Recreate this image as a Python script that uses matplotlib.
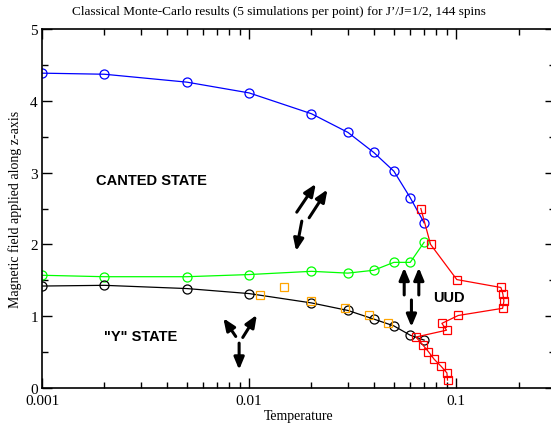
import matplotlib
matplotlib.use('Agg')
import matplotlib.pyplot as plt
from matplotlib.ticker import FixedLocator, FixedFormatter, LogLocator, NullFormatter, MultipleLocator

# canted / upper branch (blue circles)
T_blue = [0.001, 0.002, 0.005, 0.01, 0.02, 0.03, 0.04, 0.05, 0.06, 0.07]
H_blue = [4.385, 4.37, 4.26, 4.11, 3.82, 3.56, 3.28, 3.02, 2.65, 2.30]

# green circles
T_green = [0.001, 0.002, 0.005, 0.01, 0.02, 0.03, 0.04, 0.05, 0.06, 0.07]
H_green = [1.57, 1.55, 1.55, 1.58, 1.625, 1.60, 1.64, 1.75, 1.75, 2.03]

# black circles
T_black = [0.001, 0.002, 0.005, 0.01, 0.02, 0.03, 0.04, 0.05, 0.06, 0.07]
H_black = [1.42, 1.43, 1.385, 1.315, 1.185, 1.08, 0.96, 0.865, 0.735, 0.667]

# orange squares (no line)
T_orange = [0.01134, 0.0148, 0.020, 0.0289, 0.0381, 0.0468]
H_orange = [1.30, 1.41, 1.21, 1.11, 1.01, 0.91]

# red squares, UUD boundary
T_red = [0.0675, 0.0752, 0.1007, 0.1644, 0.168, 0.170, 0.1675, 0.1023, 0.0853,
         0.0898, 0.0639, 0.069, 0.0735, 0.0783, 0.0847, 0.0902, 0.0908]
H_red = [2.50, 2.00, 1.51, 1.40, 1.31, 1.21, 1.11, 1.01, 0.90,
         0.805, 0.71, 0.60, 0.505, 0.40, 0.30, 0.21, 0.11]

# spin arrows: (T_tail, H_tail, T_head, H_head)
arrows = [
    (0.00862, 0.718, 0.00751, 0.972),
    (0.00932, 0.704, 0.01090, 1.018),
    (0.00895, 0.625, 0.00895, 0.254),
    (0.01699, 2.449, 0.0210, 2.843),
    (0.01950, 2.371, 0.0239, 2.764),
    (0.01797, 2.324, 0.01687, 1.907),
    (0.0561, 1.296, 0.0561, 1.676),
    (0.0660, 1.296, 0.0660, 1.676),
    (0.0608, 1.226, 0.0608, 0.851),
]

labels = [("CANTED STATE", 0.00182, 2.90),
          ('"Y" STATE', 0.00199, 0.718),
          ("UUD", 0.0772, 1.268)]

W, H = 551, 427
fig = plt.figure(figsize=(W / 100, H / 100), dpi=100)
ax = fig.add_axes([42 / W, (H - 389) / H, (555 - 42) / W, (389 - 30) / H])

serif = ['Liberation Serif', 'DejaVu Serif']
sans = ['Liberation Sans', 'DejaVu Sans']

ms = 6.5
ax.plot(T_blue, H_blue, '-o', color='#0000ff', mfc='none', ms=ms, lw=0.9, mew=0.9)
ax.plot(T_green, H_green, '-o', color='#00ff00', mfc='none', ms=ms, lw=0.9, mew=0.9)
ax.plot(T_black, H_black, '-o', color='black', mfc='none', ms=ms, lw=0.9, mew=0.9)
ax.plot(T_red, H_red, '-s', color='#ff0000', mfc='none', ms=6, lw=0.9, mew=0.9)
ax.plot(T_orange, H_orange, 's', color='#ffa500', mfc='none', ms=6, mew=0.9)

for t0, h0, t1, h1 in arrows:
    ax.annotate('', xy=(t1, h1), xytext=(t0, h0),
                arrowprops=dict(arrowstyle='-|>,head_width=0.25,head_length=0.6',
                                color='black', lw=2.2, shrinkA=0, shrinkB=0,
                                mutation_scale=12))

for txt, t, h in labels:
    ax.text(t, h, txt, fontsize=10.5, fontweight='bold', family=sans,
            ha='left', va='center')

ax.set_xscale('log')
ax.set_xlim(0.001, 0.3)
ax.set_ylim(0, 5)

ax.xaxis.set_major_locator(FixedLocator([0.001, 0.01, 0.1]))
ax.xaxis.set_major_formatter(FixedFormatter(['0.001', '0.01', '0.1']))
ax.xaxis.set_minor_locator(LogLocator(base=10, subs=range(2, 10)))
ax.xaxis.set_minor_formatter(NullFormatter())
ax.yaxis.set_major_locator(MultipleLocator(1))
ax.yaxis.set_minor_locator(MultipleLocator(0.5))

ax.tick_params(which='both', direction='in', top=True, right=True,
               labelsize=11, width=1)
ax.tick_params(which='major', length=7)
ax.tick_params(which='minor', length=4)
ax.tick_params(axis='x', pad=4)
ax.tick_params(axis='y', pad=3)
for lab in ax.get_xticklabels() + ax.get_yticklabels():
    lab.set_family(serif)
for s in ax.spines.values():
    s.set_linewidth(1.2)

ax.set_xlabel('Temperature', fontsize=10, family=serif, labelpad=2)
ax.set_ylabel('Magnetic field applied along z-axis', fontsize=10, family=serif, labelpad=6)
fig.text(279 / W, 1 - 12 / H, "Classical Monte-Carlo results (5 simulations per point) for J\u2019/J=1/2, 144 spins",
         fontsize=9.5, family=serif, ha='center', va='center')

fig.savefig('out.png', dpi=100)
